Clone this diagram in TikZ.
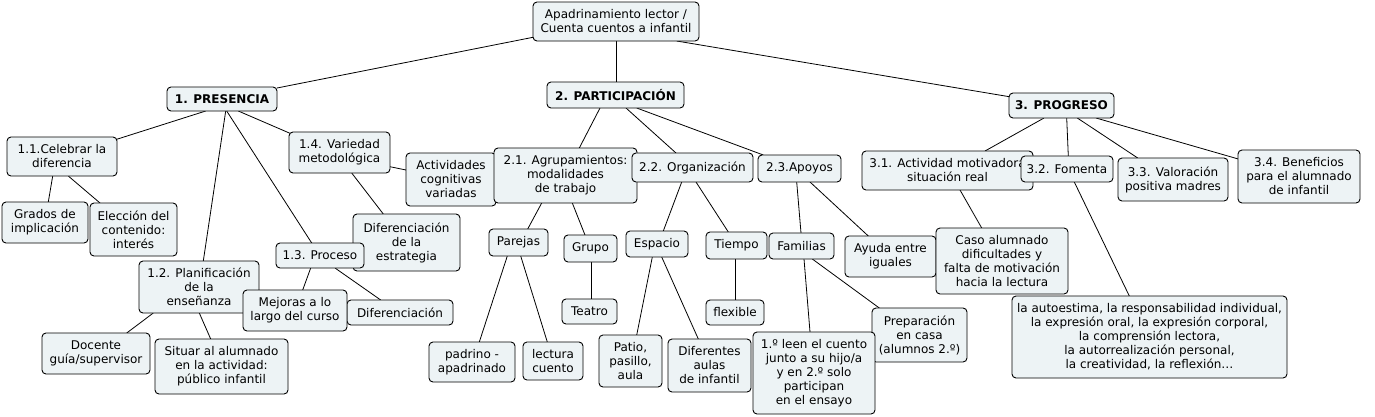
\documentclass[tikz,border=0pt]{standalone}
\usepackage{fontspec}
\setmainfont{DejaVu Sans}
\usetikzlibrary{calc}
\pgfdeclarelayer{background}
\pgfsetlayers{background,main}
\definecolor{boxfill}{RGB}{237,243,245}
\newcommand\conn[4]{\draw ($(#1.center)+(#2)$) -- ($(#3.center)+(#4)$);}
\begin{document}
\begin{tikzpicture}[x=1pt,y=-1pt,
  box/.style={draw=black, fill=boxfill, rounded corners=4pt, line width=0.9pt, align=center, inner sep=0pt,
    font={\fontsize{12}{14}\selectfont}},
  bbox/.style={box, font={\fontsize{12}{14}\selectfont\bfseries}},
  link/.style={line width=0.8pt}]
\useasboundingbox (0,0) rectangle (1375,416);

% root
\node[box, minimum width=166pt, minimum height=39pt] (root) at (616,21.5) {Apadrinamiento lector /\\Cuenta cuentos a infantil};

% 1. PRESENCIA
\node[bbox, minimum width=110pt, minimum height=24pt] (pres) at (222,99) {1. PRESENCIA};
\node[box, minimum width=110pt, minimum height=39pt] (c11) at (62,156.5) {1.1.Celebrar la\\diferencia};
\node[box, minimum width=101pt, minimum height=41pt] (c14) at (339.5,152.5) {1.4. Variedad\\metodológica};
\node[box, minimum width=90pt, minimum height=53pt] (acv) at (451,179.5) {Actividades\\cognitivas\\variadas};
\node[box, minimum width=86pt, minimum height=41pt] (grados) at (45,222.5) {Grados de\\implicación};
\node[box, minimum width=87pt, minimum height=53pt] (eleccion) at (133.5,229.5) {Elección del\\contenido:\\interés};
\node[box, minimum width=107pt, minimum height=57pt] (destr) at (406.5,242.5) {Diferenciación\\de la\\estrategia};
\node[box, minimum width=88pt, minimum height=25pt] (c13) at (320,255.5) {1.3. Proceso};
\node[box, minimum width=120pt, minimum height=52pt] (c12) at (199,287) {1.2. Planificación\\de la\\enseñanza};
\node[box, minimum width=106pt, minimum height=25pt] (difer) at (400,312.5) {Diferenciación};
\node[box, minimum width=104pt, minimum height=41pt] (mejoras) at (295,310.5) {Mejoras a lo\\largo del curso};
\node[box, minimum width=108pt, minimum height=41pt] (docente) at (96,353.5) {Docente\\guía/supervisor};
\node[box, minimum width=133pt, minimum height=55pt] (situar) at (221.5,366.5) {Situar al alumnado\\en la actividad:\\público infantil};

% 2. PARTICIPACION
\node[bbox, minimum width=137pt, minimum height=26pt] (part) at (615.5,95) {2. PARTICIPACIÓN};
\node[box, minimum width=143pt, minimum height=55pt] (c21) at (565.5,175.5) {2.1. Agrupamientos:\\modalidades\\de trabajo};
\node[box, minimum width=121pt, minimum height=29pt] (c22) at (692.5,167.5) {2.2. Organización};
\node[box, minimum width=83pt, minimum height=27pt] (c23) at (799.5,168.5) {2.3.Apoyos};
\node[box, minimum width=59pt, minimum height=27pt] (parejas) at (518.5,242.5) {Parejas};
\node[box, minimum width=53pt, minimum height=27pt] (grupo) at (590.5,248.5) {Grupo};
\node[box, minimum width=62pt, minimum height=26pt] (espacio) at (657,244) {Espacio};
\node[box, minimum width=61pt, minimum height=27pt] (tiempo) at (736.5,245.5) {Tiempo};
\node[box, minimum width=65pt, minimum height=26pt] (familias) at (801.5,246) {Familias};
\node[box, minimum width=55pt, minimum height=25pt] (teatro) at (589.5,311.5) {Teatro};
\node[box, minimum width=58pt, minimum height=25pt] (flexible) at (735,312.5) {flexible};
\node[box, minimum width=86pt, minimum height=40pt] (padrino) at (472,362) {padrino -\\apadrinado};
\node[box, minimum width=60pt, minimum height=38pt] (lectura) at (553,361) {lectura\\cuento};
\node[box, minimum width=63pt, minimum height=52pt] (patio) at (630.5,361) {Patio,\\pasillo,\\aula};
\node[box, minimum width=83pt, minimum height=53pt] (difaulas) at (709.5,365.5) {Diferentes\\aulas\\de infantil};
\node[box, minimum width=95pt, minimum height=54pt] (prep) at (919.5,335) {Preparación\\en casa\\(alumnos 2.º)};
\node[box, minimum width=122pt, minimum height=82pt] (leen) at (814,373) {1.º leen el cuento\\junto a su hijo/a\\y en 2.º solo\\participan\\en el ensayo};
\node[box, minimum width=91pt, minimum height=41pt] (ayuda) at (890.5,256.5) {Ayuda entre\\iguales};
\node[box, minimum width=132pt, minimum height=66pt] (caso) at (1002,261) {Caso alumnado\\dificultades y\\falta de motivación\\hacia la lectura};

% 3. PROGRESO
\node[bbox, minimum width=105pt, minimum height=25pt] (prog) at (1061.5,105.5) {3. PROGRESO};
\node[box, minimum width=171pt, minimum height=39pt] (c31) at (947.5,170.5) {3.1. Actividad motivadora\\situación real};
\node[box, minimum width=92pt, minimum height=26pt] (c32) at (1067,169) {3.2. Fomenta};
\node[box, minimum width=110pt, minimum height=43pt] (c33) at (1173,179.5) {3.3. Valoración\\positiva madres};
\node[box, minimum width=122pt, minimum height=53pt] (c34) at (1299,176.5) {3.4. Beneficios\\para el alumnado\\de infantil};
\node[box, minimum width=275pt, minimum height=82pt] (auto) at (1149.5,337) {la autoestima, la responsabilidad individual,\\la expresión oral, la expresión corporal,\\la comprensión lectora,\\la autorrealización personal,\\la creatividad, la reflexión…};

\begin{pgfonlayer}{background}
\fill[white] (0,0) rectangle (1375,416);
\begin{scope}[link]
\conn{root}{-83,15.8}{pres}{55,-11}
\conn{root}{0.7,19.5}{part}{1.2,-13}
\conn{root}{60.7,19.5}{prog}{-52.2,-8.8}
\conn{pres}{-16.3,12}{c11}{54.7,-17.2}
\conn{pres}{3.7,12}{c12}{4.3,-26}
\conn{pres}{4.7,12}{c13}{-8.3,-12.5}
\conn{pres}{16.3,12}{c14}{-49.5,-19.2}
\conn{c11}{-9.3,19.5}{grados}{3.3,-20.5}
\conn{c11}{6.3,19.5}{eleccion}{-33.5,-26.5}
\conn{c14}{50.5,14.2}{acv}{-45,-9.5}
\conn{c14}{12.2,20.5}{destr}{-23.2,-28.5}
\conn{c12}{-45.7,26}{docente}{30.7,-20.5}
\conn{c12}{0.3,26}{situar}{-10.8,-27.5}
\conn{c13}{-9.3,12.5}{mejoras}{7.7,-20.5}
\conn{c13}{15,12.5}{difer}{-19.3,-12.5}
\conn{part}{-15.5,13}{c21}{13.8,-27.5}
\conn{part}{10.5,13}{c22}{-16.5,-14.5}
\conn{part}{21.2,13}{c23}{-36.2,-13.5}
\conn{c21}{-23.8,27.5}{parejas}{9.2,-13.5}
\conn{c21}{6.8,27.5}{grupo}{-5.5,-13.5}
\conn{parejas}{-11.2,13.5}{padrino}{7.3,-20}
\conn{parejas}{2.2,13.5}{lectura}{-5.7,-19}
\conn{grupo}{0.5,13.5}{teatro}{1.5,-12.5}
\conn{c22}{-10.8,14.5}{espacio}{6.3,-13}
\conn{c22}{3.5,14.5}{tiempo}{-8.2,-13.5}
\conn{espacio}{-4.7,13}{patio}{6.2,-26}
\conn{espacio}{4.7,13}{difaulas}{-11.2,-26.5}
\conn{tiempo}{-1.5,13.5}{flexible}{0,-12.5}
\conn{c23}{-2.8,13.5}{familias}{-0.5,-13}
\conn{c23}{10.5,13.5}{ayuda}{-22.2,-20.5}
\conn{familias}{2.5,13}{leen}{-4,-41}
\conn{familias}{10.8,13}{prep}{-40.2,-27}
\conn{prog}{-17.5,12.5}{c31}{37.5,-19.5}
\conn{prog}{5.2,12.5}{c32}{1.3,-13}
\conn{prog}{15.8,12.5}{c33}{-35.3,-21.5}
\conn{prog}{34.5,12.5}{c34}{-60.7,-17.5}
\conn{c31}{12.5,19.5}{caso}{-20.3,-33}
\conn{c32}{7.3,13}{auto}{-20.2,-41}
\end{scope}
\end{pgfonlayer}
\end{tikzpicture}
\end{document}
